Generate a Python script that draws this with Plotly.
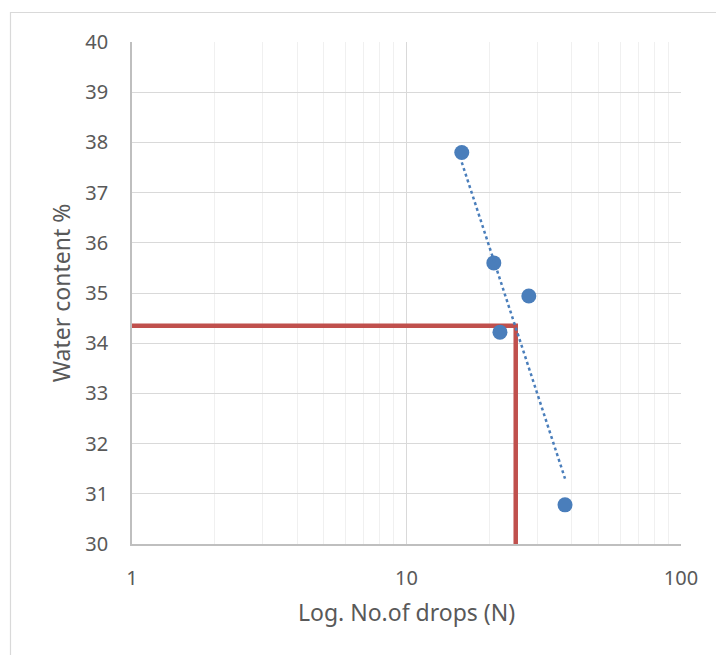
import numpy as np
import plotly.graph_objects as go

# Data
drops_n = [15.9, 20.8, 27.9, 21.9, 37.8]
water_content = [37.8, 35.6, 34.94, 34.22, 30.78]

liquid_limit_n = 25
liquid_limit_w = 34.35

x_ticks = [1, 10, 100]
y_ticks = list(range(30, 41))

# Logarithmic trendline (as in Excel) fitted to the points
coef = np.polyfit(np.log(drops_n), water_content, 1)
trend_x = [min(drops_n), max(drops_n)]
trend_y = [coef[0] * np.log(v) + coef[1] for v in trend_x]

blue = "#4A7EBB"
red = "#C0504D"
txt = "#595959"
font_family = "Noto Sans, Open Sans, sans-serif"

fig = go.Figure()

# Red guide lines for liquid limit
fig.add_trace(go.Scatter(
    x=[1, liquid_limit_n, liquid_limit_n],
    y=[liquid_limit_w, liquid_limit_w, 30],
    mode="lines",
    line=dict(color=red, width=4.5),
    hoverinfo="skip",
    showlegend=False,
))

fig.add_trace(go.Scatter(
    x=drops_n, y=water_content,
    mode="markers",
    marker=dict(color=blue, size=15, line=dict(width=0)),
    showlegend=False,
))

fig.add_trace(go.Scatter(
    x=trend_x, y=trend_y,
    mode="lines",
    line=dict(color=blue, width=2.5, dash="dot"),
    showlegend=False,
))

L, R, T, B = 132, 35, 42, 111
W, H = 716, 655
pw, ph = W - L - R, H - T - B

def px(xp):
    return (xp - L) / pw

def py(yp):
    return (H - B - yp) / ph

# outer chart border
fig.add_shape(type="rect", xref="paper", yref="paper",
              x0=px(10.5), x1=px(730), y0=py(670), y1=py(12.5),
              line=dict(color="#D9D9D9", width=1.2), fillcolor="rgba(0,0,0,0)",
              layer="below")

fig.update_layout(
    width=W, height=H,
    margin=dict(l=L, r=R, t=T, b=B),
    paper_bgcolor="white",
    plot_bgcolor="white",
    font=dict(family=font_family, color=txt, size=20),
    xaxis=dict(
        type="log",
        range=[0, 2],
        tickvals=x_ticks,
        ticktext=[str(v) for v in x_ticks],
        showgrid=True,
        gridcolor="#D9D9D9",
        gridwidth=1.2,
        minor=dict(showgrid=True, gridcolor="#F0F0F0", gridwidth=1.2,
                   tickvals=[2, 3, 4, 5, 6, 7, 8, 9, 20, 30, 40, 50, 60, 70, 80, 90]),
        showline=True,
        linecolor="#BFBFBF",
        linewidth=1.5,
        ticks="",
        ticklabelstandoff=15,
        zeroline=False,
        title=dict(text="Log. No.of drops (N)", font=dict(size=23, color=txt), standoff=15),
        tickfont=dict(size=20, color=txt),
    ),
    yaxis=dict(
        range=[30, 40],
        tickvals=y_ticks,
        showgrid=True,
        gridcolor="#D9D9D9",
        gridwidth=1.2,
        showline=True,
        linecolor="#BFBFBF",
        linewidth=1.5,
        ticks="",
        ticklabelstandoff=18,
        zeroline=False,
        title=dict(text="Water content %", font=dict(size=23, color=txt), standoff=8),
        tickfont=dict(size=20, color=txt),
    ),
)

fig.write_html("out.html")
